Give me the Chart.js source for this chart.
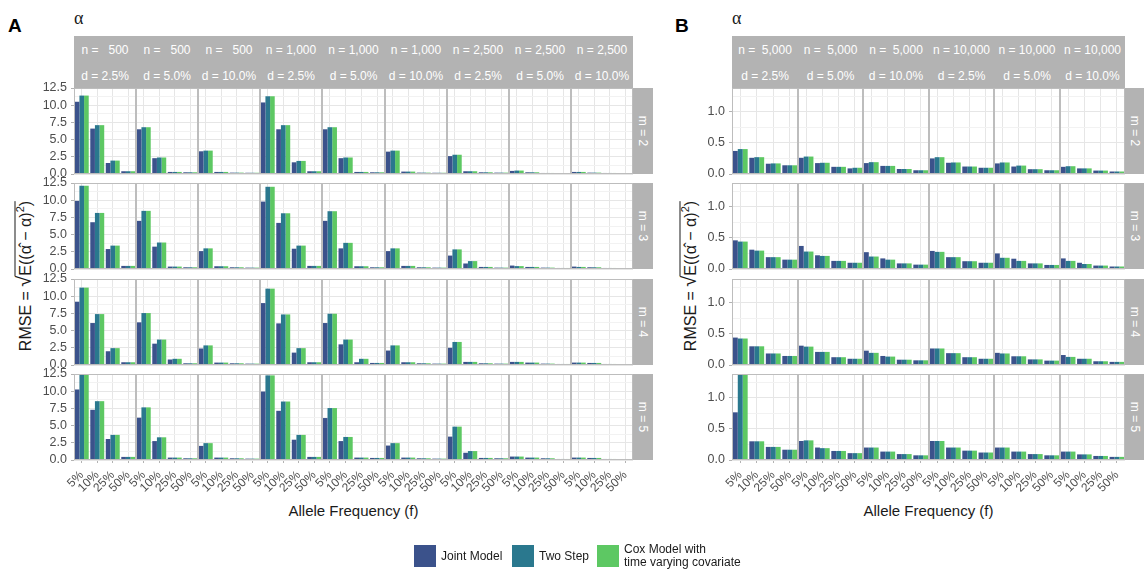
<!DOCTYPE html>
<html>
<head>
<meta charset="utf-8">
<script src="https://cdn.jsdelivr.net/npm/chart.js@4.4.1/dist/chart.umd.min.js"></script>
<style>
body { margin: 0; background: #fff; font-family: 'Liberation Sans', Arial, sans-serif; }
#fig { position: relative; width: 1144px; height: 570px; overflow: hidden; }
#fig canvas { position: absolute; }
.strip { position: absolute; background: #b3b3b3; }
.stxt { position: absolute; color: #fff; font-size: 12px; line-height: 14px; white-space: pre; text-align: center; }
.rtxt { position: absolute; color: #fff; font-size: 12px; white-space: pre; transform: translate(-50%, -50%) rotate(90deg); }
.letter { position: absolute; font-weight: bold; font-size: 19px; color: #000; }
.alpha { position: absolute; font-family: 'Liberation Serif', 'DejaVu Serif', serif; font-size: 18px; color: #1a1a1a; }
.ytitle { position: absolute; font-size: 16px; color: #1a1a1a; white-space: nowrap; transform: translate(-50%, -50%) rotate(-90deg); }
.ytitle .sq { font-size: 20px; }
.ytitle .rad { border-top: 1px solid #1a1a1a; padding-top: 1px; }
.xtitle { position: absolute; font-size: 15px; color: #1a1a1a; white-space: nowrap; transform: translateX(-50%); }
.lkey { position: absolute; width: 22px; height: 22px; }
.ltxt { position: absolute; font-size: 12px; line-height: 13px; color: #1a1a1a; }
</style>
</head>
<body>
<div id="fig"></div>
<script>
// categories and labels
const freqs = ['5%', '10%', '25%', '50%'];
const seriesNames = ['Joint Model', 'Two Step', 'Cox Model with\ntime varying covariate'];
const seriesColors = ['#3B528B', '#2A788E', '#5DC863'];
const mLabels = ['m = 2', 'm = 3', 'm = 4', 'm = 5'];

const nLabelsA = ['n =   500', 'n =   500', 'n =   500', 'n = 1,000', 'n = 1,000', 'n = 1,000', 'n = 2,500', 'n = 2,500', 'n = 2,500'];
const dLabelsA = ['d = 2.5%', 'd = 5.0%', 'd = 10.0%', 'd = 2.5%', 'd = 5.0%', 'd = 10.0%', 'd = 2.5%', 'd = 5.0%', 'd = 10.0%'];
const nLabelsB = ['n =  5,000', 'n =  5,000', 'n =  5,000', 'n = 10,000', 'n = 10,000', 'n = 10,000'];
const dLabelsB = ['d = 2.5%', 'd = 5.0%', 'd = 10.0%', 'd = 2.5%', 'd = 5.0%', 'd = 10.0%'];

// y axis: range, grid step, labelled step
const yMaxA = 12.5, yStepA = 1.25, yLabelStepA = 2.5;
const yMaxB = 1.38, yStepB = 0.25, yLabelStepB = 0.5;

// panel A: one row per facet column (n/d), values for 5%,10%,25%,50%
const jointA2 = [[10.5,6.6,1.6,0.4],[6.5,2.3,0.3,0.25],[3.3,0.3,0.2,0.18],[10.4,6.5,1.7,0.4],[6.5,2.3,0.3,0.25],[3.25,0.35,0.2,0.18],[2.6,0.4,0.25,0.2],[0.45,0.25,0.15,0.12],[0.3,0.2,0.15,0.1]];
const twoStepA2 = [[11.4,7.1,1.95,0.4],[6.8,2.4,0.3,0.25],[3.4,0.3,0.2,0.18],[11.3,7.1,1.9,0.4],[6.8,2.4,0.3,0.25],[3.4,0.35,0.2,0.18],[2.8,0.4,0.25,0.2],[0.5,0.25,0.15,0.12],[0.3,0.2,0.15,0.1]];
const jointA3 = [[9.9,6.8,2.9,0.45],[7.0,3.25,0.35,0.25],[2.6,0.4,0.25,0.2],[9.8,6.7,2.95,0.45],[7.0,3.0,0.4,0.25],[2.6,0.45,0.25,0.2],[1.95,0.8,0.3,0.2],[0.5,0.3,0.2,0.15],[0.35,0.25,0.15,0.1]];
const twoStepA3 = [[12.1,8.15,3.4,0.45],[8.45,3.85,0.35,0.25],[3.0,0.4,0.25,0.2],[11.95,8.1,3.4,0.45],[8.4,3.8,0.4,0.25],[3.0,0.45,0.25,0.2],[2.85,1.15,0.3,0.2],[0.42,0.3,0.2,0.15],[0.3,0.25,0.15,0.1]];
const jointA4 = [[9.2,6.1,2.0,0.4],[6.2,3.1,0.8,0.25],[2.4,0.35,0.25,0.2],[9.0,6.05,1.8,0.4],[6.1,3.0,0.4,0.3],[2.1,0.4,0.25,0.2],[2.5,0.45,0.25,0.2],[0.45,0.35,0.2,0.15],[0.35,0.3,0.15,0.1]];
const twoStepA4 = [[11.25,7.4,2.45,0.4],[7.55,3.7,0.9,0.25],[2.85,0.35,0.25,0.2],[11.1,7.35,2.45,0.4],[7.45,3.7,0.9,0.3],[2.85,0.4,0.25,0.2],[3.35,0.45,0.25,0.2],[0.45,0.35,0.2,0.15],[0.35,0.3,0.15,0.1]];
const jointA5 = [[10.25,7.3,3.05,0.45],[6.15,2.75,0.35,0.25],[2.05,0.35,0.25,0.2],[9.95,7.15,2.95,0.45],[6.1,2.75,0.35,0.3],[2.1,0.35,0.25,0.2],[3.4,1.05,0.3,0.25],[0.5,0.35,0.25,0.15],[0.35,0.3,0.15,0.1]];
const twoStepA5 = [[12.5,8.55,3.65,0.45],[7.65,3.3,0.35,0.25],[2.45,0.35,0.25,0.2],[12.3,8.5,3.65,0.45],[7.55,3.35,0.35,0.3],[2.45,0.35,0.25,0.2],[4.85,1.3,0.3,0.25],[0.5,0.35,0.25,0.15],[0.35,0.3,0.15,0.1]];
// Cox bars look the same as Two Step everywhere in the figure
const coxA2 = twoStepA2, coxA3 = twoStepA3, coxA4 = twoStepA4, coxA5 = twoStepA5;

// panel B
const jointB2 = [[0.37,0.26,0.165,0.14],[0.26,0.175,0.115,0.09],[0.175,0.13,0.08,0.06],[0.25,0.18,0.12,0.10],[0.17,0.12,0.077,0.06],[0.115,0.09,0.055,0.04]];
const twoStepB2 = [[0.40,0.27,0.17,0.14],[0.28,0.18,0.115,0.10],[0.19,0.13,0.08,0.06],[0.27,0.185,0.12,0.10],[0.185,0.135,0.077,0.06],[0.125,0.09,0.055,0.04]];
const jointB3 = [[0.46,0.31,0.19,0.15],[0.37,0.22,0.13,0.10],[0.27,0.17,0.09,0.07],[0.29,0.19,0.125,0.10],[0.25,0.165,0.09,0.065],[0.17,0.10,0.055,0.04]];
const twoStepB3 = [[0.44,0.295,0.19,0.15],[0.28,0.21,0.13,0.10],[0.20,0.15,0.09,0.07],[0.275,0.19,0.125,0.10],[0.18,0.13,0.09,0.065],[0.13,0.08,0.055,0.04]];
const jointB4 = [[0.44,0.30,0.185,0.145],[0.31,0.21,0.125,0.10],[0.23,0.145,0.085,0.075],[0.265,0.19,0.125,0.10],[0.195,0.14,0.09,0.07],[0.16,0.10,0.06,0.05]];
const twoStepB4 = [[0.425,0.30,0.185,0.145],[0.295,0.21,0.125,0.10],[0.195,0.135,0.085,0.075],[0.265,0.19,0.125,0.10],[0.185,0.14,0.09,0.07],[0.13,0.10,0.06,0.05]];
const jointB5 = [[0.765,0.30,0.21,0.165],[0.305,0.20,0.145,0.11],[0.20,0.135,0.095,0.075],[0.305,0.20,0.15,0.12],[0.20,0.135,0.095,0.075],[0.135,0.09,0.065,0.05]];
const twoStepB5 = [[1.38,0.30,0.21,0.165],[0.315,0.19,0.145,0.11],[0.20,0.135,0.095,0.075],[0.305,0.20,0.15,0.12],[0.20,0.135,0.095,0.075],[0.135,0.09,0.065,0.05]];
const coxB2 = twoStepB2, coxB3 = twoStepB3, coxB4 = twoStepB4, coxB5 = twoStepB5;

const fig = document.getElementById('fig');
Chart.defaults.font.family = "'Liberation Sans', Arial, sans-serif";
Chart.defaults.font.size = 12;
Chart.defaults.color = '#4d4d4d';

const panels = [
    { x0: 74, x1: 633, letter: 'A', letterX: 8, titleX: 24, yMax: yMaxA, yStep: yStepA, yLabelStep: yLabelStepA,
      nLabels: nLabelsA, dLabels: dLabelsA,
      rows: [[jointA2, twoStepA2, coxA2], [jointA3, twoStepA3, coxA3], [jointA4, twoStepA4, coxA4], [jointA5, twoStepA5, coxA5]] },
    { x0: 732, x1: 1125, letter: 'B', letterX: 675, titleX: 689, yMax: yMaxB, yStep: yStepB, yLabelStep: yLabelStepB,
      nLabels: nLabelsB, dLabels: dLabelsB,
      rows: [[jointB2, twoStepB2, coxB2], [jointB3, twoStepB3, coxB3], [jointB4, twoStepB4, coxB4], [jointB5, twoStepB5, coxB5]] }
];

const rowTop = (r) => Math.round(88 + r * 95.33);
const rowH = 86;

//draws the grey frame round each facet
const framePlugin = {
    id: 'frame',
    afterDraw(chart) {
        const a = chart.chartArea, ctx = chart.ctx;
        ctx.save();
        ctx.strokeStyle = '#bdbdbd';
        ctx.lineWidth = 1;
        ctx.strokeRect(a.left + 0.5, a.top + 0.5, a.right - a.left - 1, a.bottom - a.top - 1);
        ctx.restore();
    }
};

const add = (tag, cls, style, html) => {
    const el = document.createElement(tag);
    if (cls) el.className = cls;
    Object.assign(el.style, style);
    if (html !== undefined) el.innerHTML = html;
    fig.appendChild(el);
    return el;
};

const isMajor = (v, step) => Math.abs(v / step - Math.round(v / step)) < 1e-6;

panels.forEach(p => {
    const ncol = p.nLabels.length;
    const colW = (p.x1 - p.x0) / ncol;

    // letter, alpha, strips
    add('div', 'letter', { left: p.letterX + 'px', top: '15px' }, p.letter);
    add('div', 'alpha', { left: p.x0 + 'px', top: '8px' }, 'α');
    add('div', 'strip', { left: p.x0 + 'px', top: '36px', width: (p.x1 - p.x0) + 'px', height: '52px' });
    for (let c = 0; c < ncol; c++) {
        const l = Math.round(p.x0 + c * colW), w = Math.round(p.x0 + (c + 1) * colW) - l;
        add('div', 'stxt', { left: l + 'px', width: w + 'px', top: '43px' }, p.nLabels[c]);
        add('div', 'stxt', { left: l + 'px', width: w + 'px', top: '69px' }, p.dLabels[c]);
    }
    mLabels.forEach((m, r) => {
        add('div', 'strip', { left: p.x1 + 'px', top: rowTop(r) + 'px', width: '20px', height: rowH + 'px' });
        add('div', 'rtxt', { left: (p.x1 + 10) + 'px', top: (rowTop(r) + rowH / 2) + 'px' }, m);
    });

    // axis titles
    add('div', 'ytitle', { left: p.titleX + 'px', top: '276px' },
        'RMSE = <span class="sq">√</span><span class="rad">E((α̂ − α)<sup style="font-size:11px">2</sup>)</span>');
    add('div', 'xtitle', { left: ((p.x0 + p.x1) / 2) + 'px', top: '502px' }, 'Allele Frequency (f)');

    // facets
    p.rows.forEach((series, r) => {
        const lastRow = r === p.rows.length - 1;
        for (let c = 0; c < ncol; c++) {
            const firstCol = c === 0;
            const left = Math.round(p.x0 + c * colW);
            const pw = Math.round(p.x0 + (c + 1) * colW) - left;
            const L = 44, T = 8, B = lastRow ? 54 : 8, R = 2;
            const cv = document.createElement('canvas');
            cv.width = pw + L + R;
            cv.height = rowH + T + B;
            cv.style.left = (left - L) + 'px';
            cv.style.top = (rowTop(r) - T) + 'px';
            fig.appendChild(cv);

            new Chart(cv, {
                type: 'bar',
                data: {
                    labels: freqs,
                    datasets: series.map((s, k) => ({
                        label: seriesNames[k],
                        data: s[c],
                        backgroundColor: seriesColors[k],
                        borderWidth: 0,
                        categoryPercentage: 0.9,
                        barPercentage: 1.0
                    }))
                },
                options: {
                    responsive: false,
                    animation: false,
                    devicePixelRatio: 1,
                    events: [],
                    layout: { padding: { left: 0, top: T, right: R, bottom: lastRow ? 0 : B } },
                    plugins: { legend: { display: false }, tooltip: { enabled: false } },
                    scales: {
                        x: {
                            offset: true,
                            border: { display: false },
                            grid: { offset: false, color: '#e6e6e6', drawTicks: lastRow, tickLength: 3, tickColor: '#b3b3b3' },
                            ticks: { display: lastRow, autoSkip: false, minRotation: 45, maxRotation: 45, padding: 5, color: '#4d4d4d', font: { size: 12 } },
                            afterFit: (s) => { s.height = lastRow ? B : 0; s.paddingLeft = 0; s.paddingRight = 0; }
                        },
                        y: {
                            min: 0,
                            max: p.yMax,
                            border: { display: false },
                            grid: {
                                drawTicks: firstCol,
                                tickLength: 3,
                                color: (ctx) => isMajor(ctx.tick.value, p.yLabelStep) ? '#e6e6e6' : '#f2f2f2',
                                tickColor: (ctx) => isMajor(ctx.tick.value, p.yLabelStep) ? '#b3b3b3' : 'rgba(0,0,0,0)'
                            },
                            ticks: {
                                display: firstCol,
                                stepSize: p.yStep,
                                includeBounds: false,
                                autoSkip: false,
                                padding: 4,
                                color: '#4d4d4d',
                                font: { size: 12.5 },
                                callback: (v) => isMajor(v, p.yLabelStep) ? v.toFixed(1) : ''
                            },
                            afterFit: (s) => { s.width = L; s.paddingTop = 0; s.paddingBottom = 0; }
                        }
                    }
                },
                plugins: [framePlugin]
            });
        }
    });
});

// legend
const legendX = [414, 512, 597];
seriesNames.forEach((name, k) => {
    add('div', 'lkey', { left: legendX[k] + 'px', top: '545px', background: seriesColors[k] });
    const lines = name.split('\n');
    add('div', 'ltxt', { left: (legendX[k] + 27) + 'px', top: (lines.length > 1 ? 543 : 550) + 'px' }, lines.join('<br>'));
});
</script>
</body>
</html>
